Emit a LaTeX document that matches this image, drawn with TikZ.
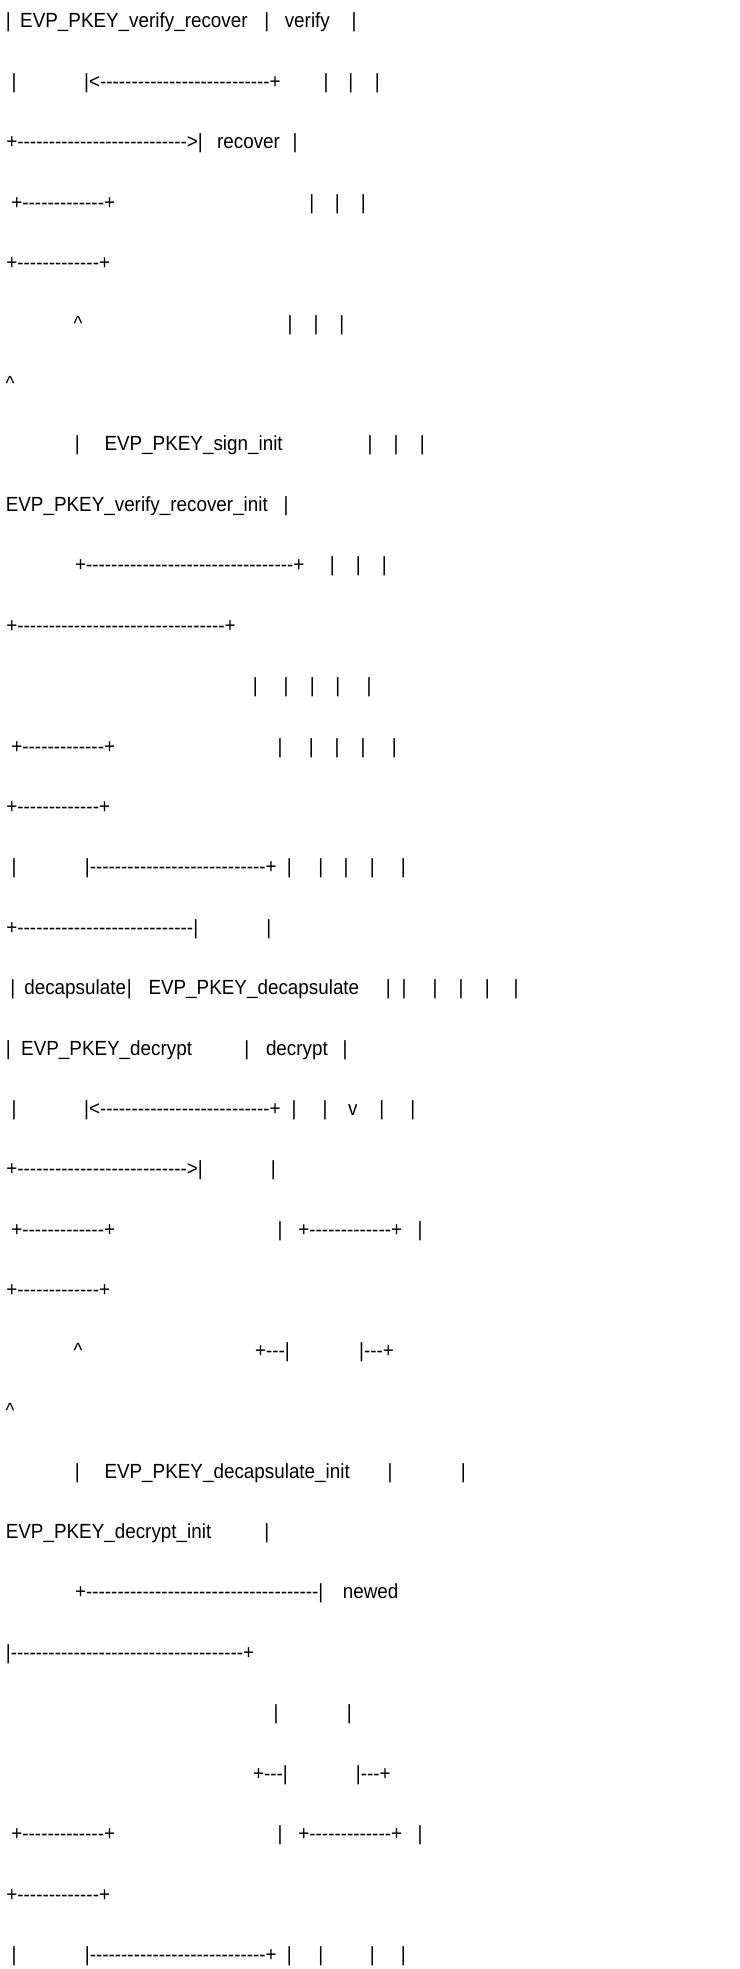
\documentclass[tikz,border=0pt]{standalone}
\usepackage{fontspec}
\usepackage{graphicx}
\newfontfamily\asc{Liberation Sans}[Ligatures=TeXOff]
\ExplSyntaxOn
\cs_new:Npn \dsh #1 { \prg_replicate:nn {#1} {-} }
\ExplSyntaxOff
\tikzset{
  txt/.style={anchor=base west, inner sep=0pt, outer sep=0pt, font=\asc\fontsize{20.5}{24}\selectfont},
  vbar/.style={anchor=base, inner sep=0pt, outer sep=0pt, font=\asc\fontsize{20.5}{24}\selectfont}
}
\newcommand\ptxt[4]{\node[txt] (#1) at ({#2},{28+(#3-1)*60.42}) {\scalebox{0.92}[1]{#4}};}
\newcommand\pbar[3]{\node[vbar] (#1) at ({#2},{28+(#3-1)*60.42}) {\scalebox{0.92}[1]{|}};}
\begin{document}
\begin{tikzpicture}[x=1pt,y=-1pt]
\fill[white] (0,0) rectangle (739,1969);
\useasboundingbox (0,0) rectangle (739,1969);
% line 1
\pbar{a1}{8.3}{1}
\ptxt{b1}{20.2}{1}{EVP\_PKEY\_verify\_recover}
\pbar{c1}{266.7}{1}
\ptxt{d1}{284.8}{1}{verify}
\pbar{e1}{354}{1}
% line 2
\pbar{a2}{14}{2}
\ptxt{b2}{84.2}{2}{|<\dsh{27}+}
\pbar{c2}{326}{2}
\pbar{d2}{350.7}{2}
\pbar{e2}{377.3}{2}
% line 3
\ptxt{a3}{6.4}{3}{+\dsh{27}>|}
\ptxt{b3}{217.1}{3}{recover}
\pbar{c3}{295}{3}
% line 4
\ptxt{a4}{11.4}{4}{+\dsh{13}+}
\pbar{b4}{311.7}{4}
\pbar{c4}{337.3}{4}
\pbar{d4}{363.3}{4}
% line 5
\ptxt{a5}{6.4}{5}{+\dsh{13}+}
% line 6
\ptxt{a6}{73.5}{6}{\textasciicircum}
\pbar{b6}{290}{6}
\pbar{c6}{316}{6}
\pbar{d6}{341.7}{6}
% line 7
\ptxt{a7}{5.5}{7}{\textasciicircum}
% line 8
\pbar{a8}{77.3}{8}
\ptxt{b8}{104.5}{8}{EVP\_PKEY\_sign\_init}
\pbar{c8}{370}{8}
\pbar{d8}{396}{8}
\pbar{e8}{422.3}{8}
% line 9
\ptxt{a9}{5.8}{9}{EVP\_PKEY\_verify\_recover\_init}
\pbar{b9}{286}{9}
% line 10
\ptxt{a10}{75.1}{10}{+\dsh{33}+}
\pbar{b10}{332.3}{10}
\pbar{c10}{358.3}{10}
\pbar{d10}{384.3}{10}
% line 11
\ptxt{a11}{6.4}{11}{+\dsh{33}+}
% line 12
\pbar{a12}{255.3}{12}
\pbar{b12}{286}{12}
\pbar{c12}{312.3}{12}
\pbar{d12}{337.7}{12}
\pbar{e12}{369}{12}
% line 13
\ptxt{a13}{11.4}{13}{+\dsh{13}+}
\pbar{b13}{280}{13}
\pbar{c13}{311.3}{13}
\pbar{d13}{337}{13}
\pbar{e13}{363}{13}
\pbar{f13}{394.3}{13}
% line 14
\ptxt{a14}{6.4}{14}{+\dsh{13}+}
% line 15
\pbar{a15}{14}{15}
\ptxt{b15}{84.9}{15}{|\dsh{28}+}
\pbar{c15}{289.3}{15}
\pbar{d15}{320.7}{15}
\pbar{e15}{346}{15}
\pbar{f15}{372.3}{15}
\pbar{g15}{403.3}{15}
% line 16
\ptxt{a16}{6.4}{16}{+\dsh{28}|}
\pbar{b16}{268.7}{16}
% line 17
\pbar{a17}{12.7}{17}
\ptxt{b17}{24.3}{17}{decapsulate}
\pbar{c17}{129.3}{17}
\ptxt{d17}{148.5}{17}{EVP\_PKEY\_decapsulate}
\pbar{e17}{388.3}{17}
\pbar{f17}{404}{17}
\pbar{g17}{435}{17}
\pbar{h17}{461}{17}
\pbar{i17}{487.3}{17}
\pbar{j17}{516}{17}
% line 18
\pbar{a18}{8.3}{18}
\ptxt{b18}{21.2}{18}{EVP\_PKEY\_decrypt}
\pbar{c18}{246.7}{18}
\ptxt{d18}{266}{18}{decrypt}
\pbar{e18}{345}{18}
% line 19
\pbar{a19}{14}{19}
\ptxt{b19}{84.2}{19}{|<\dsh{27}+}
\pbar{c19}{294}{19}
\pbar{d19}{325}{19}
\ptxt{e19}{348.2}{19}{v}
\pbar{f19}{381.7}{19}
\pbar{g19}{412.7}{19}
% line 20
\ptxt{a20}{6.4}{20}{+\dsh{27}>|}
\pbar{b20}{273.3}{20}
% line 21
\ptxt{a21}{11.4}{21}{+\dsh{13}+}
\pbar{b21}{280}{21}
\ptxt{c21}{298.4}{21}{+\dsh{13}+}
\pbar{d21}{420}{21}
% line 22
\ptxt{a22}{6.4}{22}{+\dsh{13}+}
% line 23
\ptxt{a23}{73.5}{23}{\textasciicircum}
\ptxt{b23}{255.1}{23}{+\dsh{3}|}
\ptxt{c23}{359.2}{23}{|\dsh{3}+}
% line 24
\ptxt{a24}{5.5}{24}{\textasciicircum}
% line 25
\pbar{a25}{77.3}{25}
\ptxt{b25}{104.5}{25}{EVP\_PKEY\_decapsulate\_init}
\pbar{c25}{390}{25}
\pbar{d25}{463.3}{25}
% line 26
\ptxt{a26}{5.8}{26}{EVP\_PKEY\_decrypt\_init}
\pbar{b26}{266.7}{26}
% line 27
\ptxt{a27}{75.1}{27}{+\dsh{37}|}
\ptxt{b27}{342.8}{27}{newed}
% line 28
\ptxt{a28}{5.9}{28}{|\dsh{37}+}
% line 29
\pbar{a29}{276}{29}
\pbar{b29}{349.3}{29}
% line 30
\ptxt{a30}{253.1}{30}{+\dsh{3}|}
\ptxt{b30}{355.9}{30}{|\dsh{3}+}
% line 31
\ptxt{a31}{11.4}{31}{+\dsh{13}+}
\pbar{b31}{280}{31}
\ptxt{c31}{298.4}{31}{+\dsh{13}+}
\pbar{d31}{420}{31}
% line 32
\ptxt{a32}{6.4}{32}{+\dsh{13}+}
% line 33
\pbar{a33}{14}{33}
\ptxt{b33}{84.9}{33}{|\dsh{28}+}
\pbar{c33}{289.3}{33}
\pbar{d33}{320.7}{33}
\pbar{e33}{372.3}{33}
\pbar{f33}{403.3}{33}
\end{tikzpicture}
\end{document}
